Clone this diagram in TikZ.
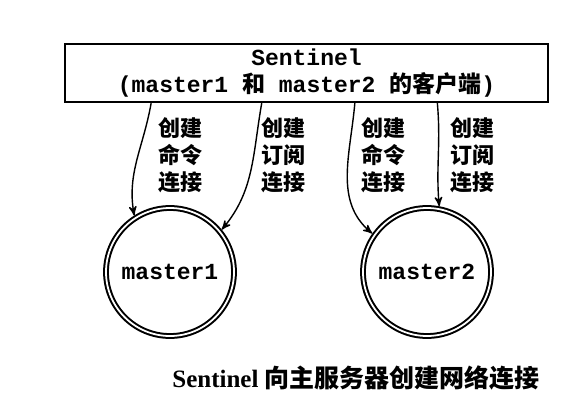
\documentclass[tikz,border=0pt]{standalone}
\usepackage{fontspec}
\setmainfont{Liberation Serif}
\setmonofont{Liberation Mono}
\newfontfamily\cjk{Noto Sans CJK SC}
\usepackage{tikz}
\usetikzlibrary{arrows,positioning}

\begin{document}
\begin{tikzpicture}[x=0.5pt,y=0.5pt,->,>=stealth',shorten >=1pt,
    box/.style={draw,line width=1.2pt,minimum width=241.5pt,minimum height=29pt,inner sep=0pt,align=center,
      font=\fontsize{11.5}{13.5}\selectfont\ttfamily\bfseries},
    master/.style={circle,draw,double,line width=1pt,double distance=0.9pt,minimum size=64pt,inner sep=0pt,
      font=\fontsize{11.5}{13.5}\selectfont\ttfamily\bfseries},
    lbl/.style={align=center,inner sep=0pt,font=\fontsize{11}{13.5}\selectfont\cjk\bfseries}]
      \useasboundingbox (0,0) rectangle (588,413);
      \node[box] (sen) at (306.5,340) {Sentinel\\(master1 {\cjk 和} master2 {\cjk 的客户端})};
      \node[master] (m1) at (170,141) {master1};
      \node[master] (m2) at (427,141) {master2};
      \node[lbl] (cmd1) at (180,258) {创建\\命令\\连接};
      \node[lbl] (sub1) at (283,258) {创建\\订阅\\连接};
      \node[lbl] (cmd2) at (383,258) {创建\\命令\\连接};
      \node[lbl] (sub2) at (472,258) {创建\\订阅\\连接};
      \node[anchor=west,inner sep=0pt,font=\fontsize{12.5}{14}\selectfont\bfseries] (cap) at (172,35)
        {Sentinel {\cjk 向主服务器创建网络连接}};
      \path[->,line width=0.7pt] (sen.-169.8) edge[out=-100,in=100] (m1.123)
      (sen.-146.3) edge[out=-100,in=50] (m1.39)
      (sen.-32.5) edge[out=-95,in=140] (m2.145)
      (sen.-13) edge[out=-85,in=95] (m2.79);
    \end{tikzpicture}
\end{document}
